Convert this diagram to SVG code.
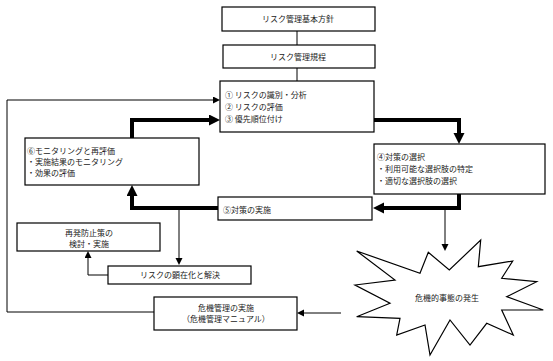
<svg xmlns="http://www.w3.org/2000/svg" width="553" height="361" viewBox="0 0 553 361">
<style>
.box{fill:#fff;stroke:#000;stroke-width:1.2}
.t{font-family:"Noto Sans CJK JP","Noto Sans",sans-serif;font-size:8px;fill:#222}
.c{text-anchor:middle}
.thin{fill:none;stroke:#000;stroke-width:1}
.thick{fill:none;stroke:#000;stroke-width:4}
</style>
<defs>
<marker id="ah" markerUnits="userSpaceOnUse" markerWidth="8" markerHeight="8" refX="0" refY="3.5" orient="auto"><path d="M0,0 L7,3.5 L0,7 z" fill="#000"/></marker>
<marker id="AH" markerUnits="userSpaceOnUse" markerWidth="12" markerHeight="12" refX="0" refY="5.5" orient="auto"><path d="M0,0 L11,5.5 L0,11 z" fill="#000"/></marker>
</defs>
<rect width="553" height="361" fill="#fff"/>
<g id="connectors">
<path class="thin" d="M297,31 V45"/>
<path class="thin" d="M297,68 V81"/>
<path class="thick" d="M374,120 H459 V133" marker-end="url(#AH)"/>
<path class="thick" d="M459,194 V208 H384" marker-end="url(#AH)"/>
<path class="thick" d="M218,208 H132 V196" marker-end="url(#AH)"/>
<path class="thick" d="M132,138 V120 H209" marker-end="url(#AH)"/>
<path class="thin" d="M154,312 H7 V100 H213" marker-end="url(#ah)"/>
<path class="thin" d="M341,313 H304" marker-end="url(#ah)"/>
<path class="thin" d="M445,208 V244" marker-end="url(#ah)"/>
<path class="thin" d="M179,210 V258" marker-end="url(#ah)"/>
<path class="thin" d="M108,275 H88 V258" marker-end="url(#ah)"/>
</g>
<g id="n1"><rect class="box" x="222" y="7" width="153" height="24"/><text class="t c" x="298" y="22">リスク管理基本方針</text></g>
<g id="n2"><rect class="box" x="223" y="45" width="152" height="23"/><text class="t c" x="298" y="60">リスク管理規程</text></g>
<g id="n3"><rect class="box" x="220" y="81" width="154" height="51"/>
<text class="t" x="225" y="98">① リスクの識別・分析</text>
<text class="t" x="225" y="110">② リスクの評価</text>
<text class="t" x="225" y="122">③ 優先順位付け</text></g>
<g id="n4"><rect class="box" x="374" y="144" width="171" height="50"/>
<text class="t" x="377" y="160">④対策の選択</text>
<text class="t" x="377" y="172">・利用可能な選択肢の特定</text>
<text class="t" x="377" y="184">・適切な選択肢の選択</text></g>
<g id="n5"><rect class="box" x="218" y="197" width="154" height="23"/><text class="t" x="223" y="213">⑤対策の実施</text></g>
<g id="n6"><rect class="box" x="25" y="138" width="174" height="47"/>
<text class="t" x="27" y="154">⑥モニタリングと再評価</text>
<text class="t" x="27" y="165">・実施結果のモニタリング</text>
<text class="t" x="27" y="176">・効果の評価</text></g>
<g id="n7"><rect class="box" x="17" y="223" width="143" height="28"/>
<text class="t c" x="89" y="236">再発防止策の</text>
<text class="t c" x="89" y="247">検討・実施</text></g>
<g id="n8"><rect class="box" x="108" y="266" width="143" height="18"/><text class="t c" x="180" y="278">リスクの顕在化と解決</text></g>
<g id="n9"><rect class="box" x="154" y="297" width="143" height="33"/>
<text class="t c" x="226" y="311">危機管理の実施</text>
<text class="t c" x="226" y="322">（危機管理マニュアル）</text></g>
<g id="n10"><polygon class="box" points="356.7,251 420,273.3 428.3,252.3 449.3,270 480.7,240 478.3,266.7 512.7,261 501.7,278.3 536.7,281.7 506.7,296.7 543.3,310 501.7,310 513.3,335 486.7,323.3 470,345 450,320 430,355 425,325 396.7,335 400,318.3 356.7,316.7 390,303.3 355,285 395,280"/>
<text class="t c" x="447" y="301">危機的事態の発生</text></g>
</svg>
